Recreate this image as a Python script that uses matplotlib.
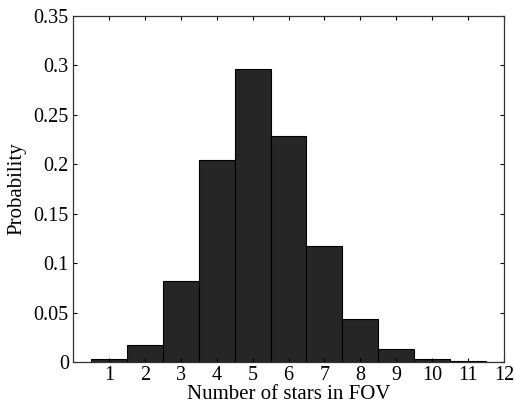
import matplotlib
matplotlib.use("Agg")
import matplotlib.pyplot as plt

# number of stars in field of view and probability
stars = [1, 2, 3, 4, 5, 6, 7, 8, 9, 10, 11, 12]
prob = [0.003, 0.017, 0.082, 0.204, 0.296, 0.229, 0.117, 0.043, 0.013, 0.003, 0.001, 0.0005]

plt.rcParams["font.family"] = ["Liberation Serif", "DejaVu Serif"]

fig = plt.figure(figsize=(5.15, 4.05), dpi=100)
ax = fig.add_axes([73 / 515, 1 - 362 / 405, (504 - 73) / 515, (362 - 16) / 405])

ax.bar(stars, prob, width=1.0, color="#262626", edgecolor="black", linewidth=0.8)

ax.set_xlim(0, 12)
ax.set_ylim(0, 0.35)
ax.set_xticks(stars)
ax.set_yticks([0, 0.05, 0.1, 0.15, 0.2, 0.25, 0.3, 0.35])
ax.set_yticklabels(["0", "0.05", "0.1", "0.15", "0.2", "0.25", "0.3", "0.35"])
ax.tick_params(direction="in", top=True, right=True, labelsize=14.5, length=3, width=0.8, pad=3)
for s in ax.spines.values():
    s.set_linewidth(0.9)
    s.set_color("#333333")

ax.set_xlabel("Number of stars in FOV", fontsize=15, labelpad=0)
ax.set_ylabel("Probability", fontsize=15, labelpad=5)

fig.savefig("out.png", dpi=100)
